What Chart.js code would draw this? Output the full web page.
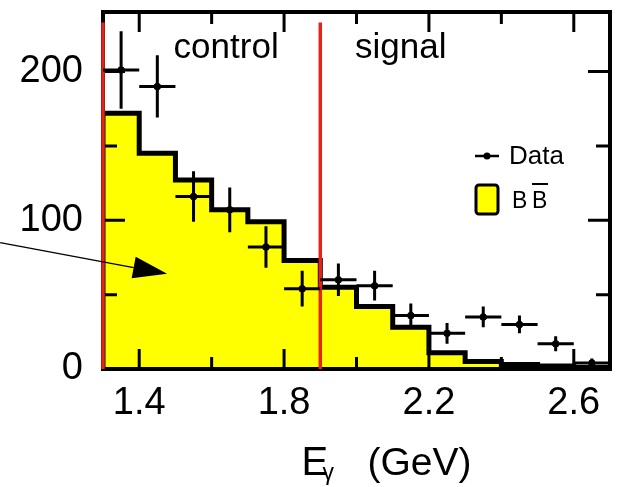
<!DOCTYPE html>
<html>
<head>
<meta charset="utf-8">
<script src="https://cdn.jsdelivr.net/npm/chart.js@4.4.1/dist/chart.umd.min.js"></script>
<style>
  html, body { margin: 0; padding: 0; background: #fff; }
  #wrap { width: 623px; height: 487px; }
</style>
</head>
<body>
<div id="wrap"><canvas id="chart"></canvas></div>
<script>
// histogram bin edges (GeV) and the B-Bbar expectation per bin
const binEdges = [1.3, 1.4, 1.5, 1.6, 1.7, 1.8, 1.9, 2.0, 2.1, 2.2, 2.3, 2.4, 2.5, 2.6, 2.7];
const bbCounts = [172, 145, 127, 107, 99, 73, 55, 42, 28, 11, 5, 3, 2, 1];

// data points: bin centre, count, error
const dataE = [1.35, 1.45, 1.55, 1.65, 1.75, 1.85, 1.95, 2.05, 2.15, 2.25, 2.35, 2.45, 2.55, 2.65];
const dataCounts = [201, 190, 116, 107, 82, 54, 60, 56, 36, 24, 35, 30, 17, 4];
const dataErr = [26, 21, 17, 15, 14, 12, 11, 10, 8, 7, 7, 6, 5, 3];
const binHalf = 0.05;

// axes
const xTicks = [1.4, 1.8, 2.2, 2.6];
const xTickLabels = ['1.4', '1.8', '2.2', '2.6'];
const xMinorTicks = [1.6, 2.0, 2.4];
const yTicks = [0, 100, 200];
const yMinorTicks = [50, 150];

// control / signal boundaries
const regionCuts = [1.3, 1.9];
const cutTop = 233;

const FONT = "'Liberation Sans', Arial, sans-serif";
const RED = '#e2241b';
const YELLOW = '#ffff00';

const histPoints = [{ x: binEdges[0], y: 0 }].concat(
    bbCounts.map((v, i) => ({ x: binEdges[i + 1], y: v })));

const physPlot = {
    id: 'physPlot',
    afterDraw(chart) {
        const { ctx, chartArea: a, scales: { x, y } } = chart;
        ctx.save();

        // frame
        ctx.strokeStyle = '#000';
        ctx.lineWidth = 4;
        ctx.strokeRect(a.left, a.top, a.right - a.left, a.bottom - a.top);

        // inward ticks on all four sides
        ctx.lineWidth = 3;
        const tickX = (vals, len) => vals.forEach(v => {
            const px = x.getPixelForValue(v);
            ctx.beginPath();
            ctx.moveTo(px, a.bottom); ctx.lineTo(px, a.bottom - len);
            ctx.moveTo(px, a.top); ctx.lineTo(px, a.top + len);
            ctx.stroke();
        });
        const tickY = (vals, len) => vals.forEach(v => {
            const py = y.getPixelForValue(v);
            ctx.beginPath();
            ctx.moveTo(a.left, py); ctx.lineTo(a.left + len, py);
            ctx.moveTo(a.right, py); ctx.lineTo(a.right - len, py);
            ctx.stroke();
        });
        tickX(xTicks, 20); tickX(xMinorTicks, 12);
        tickY(yTicks.slice(1), 22); tickY(yMinorTicks, 14);

        // region cuts
        ctx.strokeStyle = RED;
        ctx.lineWidth = 3.5;
        regionCuts.forEach(v => {
            const px = x.getPixelForValue(v);
            ctx.beginPath();
            ctx.moveTo(px, y.getPixelForValue(cutTop));
            ctx.lineTo(px, y.getPixelForValue(0));
            ctx.stroke();
        });

        // data error crosses
        ctx.strokeStyle = '#000';
        ctx.lineWidth = 3;
        dataE.forEach((e, i) => {
            const cx = x.getPixelForValue(e);
            const cy = y.getPixelForValue(dataCounts[i]);
            ctx.beginPath();
            ctx.moveTo(x.getPixelForValue(e - binHalf), cy);
            ctx.lineTo(x.getPixelForValue(e + binHalf), cy);
            ctx.moveTo(cx, y.getPixelForValue(dataCounts[i] + dataErr[i]));
            ctx.lineTo(cx, y.getPixelForValue(dataCounts[i] - dataErr[i]));
            ctx.stroke();
            ctx.beginPath();
            ctx.arc(cx, cy, 3.5, 0, Math.PI * 2);
            ctx.fillStyle = '#000';
            ctx.fill();
        });

        // region labels
        ctx.fillStyle = '#000';
        ctx.textBaseline = 'alphabetic';
        ctx.textAlign = 'center';
        ctx.font = '35px ' + FONT;
        ctx.fillText('control', x.getPixelForValue(1.64), y.getPixelForValue(209));
        ctx.fillText('signal', x.getPixelForValue(2.122), y.getPixelForValue(209));

        // legend
        const lx = a.right - 135;
        ctx.textAlign = 'left';
        ctx.lineWidth = 2.5;
        ctx.beginPath();
        ctx.moveTo(lx, 156); ctx.lineTo(lx + 24, 156);
        ctx.stroke();
        ctx.beginPath();
        ctx.arc(lx + 12, 156, 3.5, 0, Math.PI * 2);
        ctx.fill();
        ctx.font = '26px ' + FONT;
        ctx.fillText('Data', lx + 34, 164);

        ctx.fillStyle = YELLOW;
        ctx.lineWidth = 3;
        ctx.beginPath();
        ctx.roundRect(lx + 1, 185, 22, 29, 3);
        ctx.fill();
        ctx.stroke();
        ctx.fillStyle = '#000';
        ctx.font = '23px ' + FONT;
        ctx.fillText('B', lx + 37, 208);
        ctx.fillText('B', lx + 57, 208);
        ctx.lineWidth = 2;
        ctx.beginPath();
        ctx.moveTo(lx + 57, 184); ctx.lineTo(lx + 73, 184);
        ctx.stroke();

        // arrow
        const x0 = x.getPixelForValue(1.016), y0 = y.getPixelForValue(85);
        const x1 = x.getPixelForValue(1.477), y1 = y.getPixelForValue(64);
        const ang = Math.atan2(y1 - y0, x1 - x0);
        const hl = 34, hw = 11;
        const bx = x1 - hl * Math.cos(ang), by = y1 - hl * Math.sin(ang);
        ctx.lineWidth = 1.3;
        ctx.beginPath();
        ctx.moveTo(x0, y0); ctx.lineTo(bx, by);
        ctx.stroke();
        ctx.beginPath();
        ctx.moveTo(x1, y1);
        ctx.lineTo(bx - hw * Math.sin(ang), by + hw * Math.cos(ang));
        ctx.lineTo(bx + hw * Math.sin(ang), by - hw * Math.cos(ang));
        ctx.closePath();
        ctx.fill();

        // axis title  E_gamma (GeV)
        const tx = (a.left + a.right) / 2 - 55, ty = 475;
        ctx.font = '40px ' + FONT;
        ctx.fillText('E', tx, ty);
        ctx.font = '23px ' + FONT;
        ctx.fillText('\u03b3', tx + 21, ty + 5);
        ctx.font = '39px ' + FONT;
        ctx.fillText('(GeV)', tx + 66, ty);

        ctx.restore();
    }
};

new Chart(document.getElementById('chart'), {
    type: 'scatter',
    data: {
        datasets: [{
            type: 'scatter',
            label: 'Data',
            data: dataE.map((e, i) => ({ x: e, y: dataCounts[i] })),
            pointRadius: 3.5,
            pointBackgroundColor: '#000',
            pointBorderWidth: 0,
            order: 1
        }, {
            type: 'line',
            label: 'BB',
            data: histPoints,
            stepped: 'after',
            borderColor: '#000',
            borderWidth: 5,
            borderJoinStyle: 'miter',
            backgroundColor: YELLOW,
            fill: 'origin',
            pointRadius: 0,
            order: 2
        }]
    },
    options: {
        responsive: true,
        maintainAspectRatio: false,
        animation: false,
        layout: { padding: { top: 12, right: 13, left: 0, bottom: 0 } },
        plugins: { legend: { display: false }, tooltip: { enabled: false } },
        scales: {
            x: {
                type: 'linear', min: 1.3, max: 2.7,
                grid: { display: false, drawTicks: false },
                border: { display: false },
                afterBuildTicks: s => { s.ticks = xTicks.map(v => ({ value: v })); },
                afterFit: s => { s.height = 118; s.paddingLeft = 0; s.paddingRight = 0; },
                ticks: {
                    padding: 12, maxRotation: 0, color: '#000',
                    font: { family: FONT, size: 38 },
                    callback: (v, i) => xTickLabels[i]
                }
            },
            y: {
                min: 0, max: 240,
                grid: { display: false, drawTicks: false },
                border: { display: false },
                afterBuildTicks: s => { s.ticks = yTicks.map(v => ({ value: v })); },
                afterFit: s => { s.width = 103; s.paddingTop = 0; s.paddingBottom = 0; },
                ticks: {
                    padding: 20, color: '#000',
                    font: { family: FONT, size: 38 },
                    callback: v => String(v)
                }
            }
        }
    },
    plugins: [physPlot]
});
</script>
</body>
</html>
